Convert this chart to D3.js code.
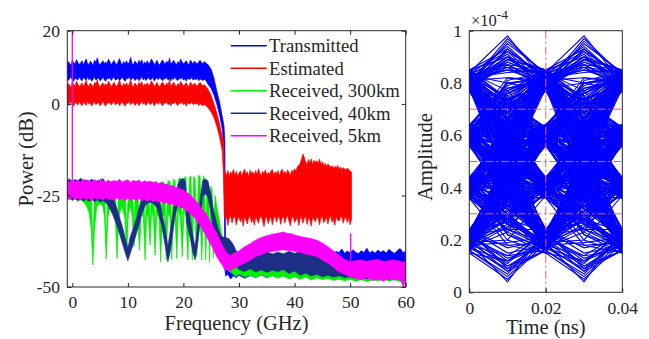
<!DOCTYPE html>
<html><head><meta charset="utf-8">
<script src="https://cdn.jsdelivr.net/npm/d3@7"></script>
<style>
body{margin:0;background:#fff}
svg{display:block}
</style></head><body>
<svg id="c" width="649" height="339"></svg>
<script>
// ---------------- DATA ----------------
const seriesNames = ["Transmitted","Estimated","Received, 300km","Received, 40km","Received, 5km"];
const seriesColors = ["#0000ff","#ff0000","#00ee00","#1c2f87","#ff00ff"];
const freqTicks = [0,10,20,30,40,50,60];
const powerTicks = [-50,-25,0,20];

// In-band noise of Transmitted / Estimated, sampled every 0.25 GHz from -1 GHz to 24 GHz (dB)
const flatStart = -1, flatStep = 0.25;
const txFlatHi = [10.8,11.6,11.1,10.5,11.9,11.3,10.9,12.1,11.4,10.7,11.2,11.8,10.6,11.5,12.3,11.0,10.8,11.7,11.2,10.5,11.9,11.4,12.6,11.1,10.7,11.3,11.8,10.9,11.5,11.0,12.2,11.6,10.6,11.3,11.9,11.1,10.8,11.5,12.4,11.2,10.7,11.6,11.0,11.8,10.9,11.4,12.7,11.1,10.6,11.7,11.3,10.8,11.9,11.2,12.1,10.7,11.5,11.0,11.8,10.9,11.4,12.3,11.6,10.8,11.2,11.9,11.0,10.6,11.5,12.0,11.3,10.9,11.7,11.1,12.5,10.8,11.4,11.9,11.2,10.7,11.6,11.0,12.2,11.5,10.9,11.3,11.8,11.1,10.7,12.0,11.4,11.0,11.7,11.2,10.9,11.5,11.9,11.3,11.0,11.6,11.2];
const txFlatLo = [7.0,6.4,6.9,7.3,6.6,6.2,7.1,6.8,6.5,7.4,6.7,6.3,7.2,6.9,6.4,7.5,6.6,7.0,6.2,6.8,7.3,6.5,6.9,7.1,6.3,6.7,7.4,6.6,6.2,7.0,6.8,7.2,6.4,6.9,7.5,6.5,6.7,7.1,6.3,6.9,7.3,6.6,6.2,7.0,6.8,7.4,6.5,6.9,7.2,6.4,6.7,7.1,6.3,6.8,7.5,6.6,7.0,6.4,6.9,7.2,6.5,6.8,7.3,6.2,6.9,7.1,6.6,7.4,6.7,6.3,7.0,6.8,7.2,6.5,6.9,6.3,7.1,6.7,7.4,6.6,6.4,7.0,6.8,7.3,6.5,6.9,6.2,7.1,6.7,6.8,7.2,6.5,6.9,6.6,7.0,6.3,6.8,6.6,6.4,6.7,6.5];
const estFlatHi = [4.8,5.6,5.1,4.5,5.9,5.3,4.9,6.2,5.4,4.7,5.2,5.8,4.6,5.5,6.4,5.0,4.8,5.7,5.2,4.5,5.9,5.4,6.6,5.1,4.7,5.3,5.8,4.9,5.5,5.0,6.2,5.6,4.6,5.3,5.9,5.1,4.8,5.5,6.5,5.2,4.7,5.6,5.0,5.8,4.9,5.4,6.7,5.1,4.6,5.7,5.3,4.8,5.9,5.2,6.1,4.7,5.5,5.0,5.8,4.9,5.4,6.3,5.6,4.8,5.2,5.9,5.0,4.6,5.5,6.0,5.3,4.9,5.7,5.1,6.5,4.8,5.4,5.9,5.2,4.7,5.6,5.0,6.2,5.5,4.9,5.3,5.8,5.1,4.7,6.0,5.4,5.0,5.7,5.2,4.9,5.5,5.9,5.3,5.0,5.2,4.9];
const estFlatLo = [0.3,-0.4,0.2,0.6,-0.2,-0.6,0.4,0.1,-0.3,0.7,0.0,-0.5,0.5,0.2,-0.4,0.8,-0.1,0.3,-0.6,0.1,0.6,-0.2,0.2,0.4,-0.5,0.0,0.7,-0.1,-0.6,0.3,0.1,0.5,-0.3,0.2,0.8,-0.2,0.0,0.4,-0.5,0.2,0.6,-0.1,-0.6,0.3,0.1,0.7,-0.2,0.2,0.5,-0.4,0.0,0.4,-0.5,0.1,0.8,-0.1,0.3,-0.4,0.2,0.5,-0.2,0.1,0.6,-0.6,0.2,0.4,-0.1,0.7,0.0,-0.5,0.3,0.1,0.5,-0.2,0.2,-0.5,0.4,0.0,0.7,-0.1,-0.4,0.3,0.1,0.6,-0.2,0.2,-0.6,0.4,0.0,0.1,0.5,-0.2,0.2,-0.1,0.3,-0.5,0.1,-0.3,-0.4,-0.2,-0.3];

// Roll-off and out-of-band parts: [frequency GHz, lower dB, upper dB]
const txTail = [[24.5,5.2,10.6],[25,4.2,9.4],[25.5,2.4,7.0],[26,0.0,3.5],[26.5,-3.0,0.5],[27,-7.0,-3.5],[27.3,-12,-6],[27.45,-45,-10],[27.6,-47,-43],[28,-46.5,-43.8],[28.5,-47.8,-44.2],[29,-46.9,-43.6],[29.5,-47.5,-44.0],[30,-46.8,-43.9],[31,-47.6,-44.3],[32,-46.9,-43.7],[33,-47.4,-44.1],[34,-46.7,-43.8],[35,-47.5,-44.0],[36,-46.8,-43.6],[37,-47.2,-44.2],[38,-46.9,-43.5],[39,-47.3,-43.9],[40,-46.6,-43.4],[41,-46.8,-43.2],[42,-46.4,-43.0],[43,-46.0,-42.6],[44,-45.6,-42.2],[45,-45.0,-41.6],[46,-44.5,-41.2],[47,-44.2,-40.8],[47.5,-43.8,-40.3],[48,-43.6,-40.6],[48.5,-43.9,-39.6],[49,-43.5,-40.8],[49.5,-43.8,-40.2],[50,-43.4,-40.7],[50.5,-43.9,-39.8],[51,-43.6,-40.5],[51.5,-43.3,-40.9],[52,-43.8,-40.1],[52.5,-43.5,-40.6],[53,-43.9,-39.4],[53.5,-43.4,-40.7],[54,-43.7,-40.2],[54.5,-43.5,-40.8],[55,-43.9,-39.9],[55.5,-43.3,-40.5],[56,-43.6,-40.1],[56.5,-43.8,-40.7],[57,-43.4,-39.7],[57.5,-43.7,-40.4],[58,-43.5,-40.8],[58.5,-43.9,-40.0],[59,-43.6,-39.5],[59.5,-43.8,-40.6],[60,-43.5,-40.3]];
const estRollOff = [[24.5,-1.2,3.8],[25,-2.2,2.2],[25.5,-3.8,0.0],[26,-6.0,-2.5],[26.5,-9.0,-5.5],[27,-13.0,-9.0],[27.2,-19,-10],[27.35,-30,-17.5]];
// Estimated, out-of-band floor, every 0.25 GHz from 27.5 GHz to 50.25 GHz
const estBandStart = 27.5;
const estBandHi = [-18.8,-19.4,-18.2,-19.7,-18.6,-19.1,-17.9,-19.5,-18.4,-19.8,-18.9,-18.3,-19.6,-18.7,-17.8,-19.2,-18.5,-19.9,-18.1,-19.0,-18.6,-19.4,-18.2,-19.3,-17.7,-18.9,-19.6,-18.4,-19.1,-18.0,-19.5,-18.7,-19.2,-18.3,-17.9,-19.4,-18.6,-19.0,-18.2,-19.7,-18.5,-17.8,-19.1,-18.4,-19.3,-18.0,-18.8,-19.5,-18.1,-18.6,-17.7,-18.3,-17.2,-16.8,-16.2,-15.1,-13.7,-14.6,-15.9,-16.4,-15.2,-16.1,-15.0,-16.6,-15.4,-16.0,-15.5,-16.3,-15.1,-16.5,-15.8,-16.9,-16.2,-17.1,-16.4,-16.8,-17.3,-16.9,-17.6,-17.0,-17.5,-16.8,-17.8,-17.2,-18.0,-17.4,-17.7,-18.1,-17.5,-17.9,-18.3,-18.6];
const estBandLo = [-31.5,-30.8,-33.2,-31.2,-30.6,-32.5,-31.0,-30.7,-33.0,-31.4,-30.9,-32.2,-31.1,-33.4,-30.8,-31.6,-32.8,-31.0,-30.6,-32.4,-31.3,-33.1,-30.9,-31.5,-32.6,-31.0,-30.7,-32.0,-33.5,-31.2,-30.8,-32.7,-31.4,-30.9,-33.0,-31.3,-30.6,-32.3,-31.0,-30.8,-32.9,-31.2,-30.7,-32.5,-31.1,-30.5,-32.1,-33.3,-31.0,-30.8,-32.4,-31.6,-30.9,-33.2,-31.4,-30.7,-32.6,-31.2,-30.6,-32.9,-31.0,-31.8,-33.4,-30.9,-31.5,-32.2,-30.8,-31.3,-33.0,-31.1,-30.7,-32.5,-31.6,-30.9,-32.8,-31.2,-30.6,-32.3,-31.4,-33.1,-30.8,-31.7,-32.0,-31.0,-30.7,-32.6,-31.3,-30.9,-32.4,-31.1,-33.0,-31.5];

const received300 = [[-1,-26.2,-21.0],[-0.5,-25.7,-20.4],[0,-26.4,-21.2],[0.5,-25.9,-20.6],[1,-26.6,-21.1],[1.5,-26.1,-20.3],[2,-26.8,-21.3],[2.5,-27.6,-21.0],[3,-29.5,-21.6],[3.4,-34,-23],[3.7,-44,-39],[4.0,-34,-24],[4.4,-28,-21.5],[5,-27.2,-20.8],[5.5,-28.0,-21.4],[5.8,-31,-22.5],[6.1,-42.4,-38],[6.4,-31,-23],[6.9,-27.5,-21.2],[7.4,-27.8,-21.0],[7.75,-31.5,-22.5],[8.05,-42.2,-37],[8.35,-31,-22.5],[8.9,-27.8,-21.4],[9.45,-31,-22.4],[9.8,-41,-35],[10.1,-30,-22.5],[10.5,-28,-21.6],[10.8,-31,-22.5],[11.1,-39,-33],[11.4,-30,-22.5],[11.75,-31,-22.0],[12.1,-40,-34],[12.4,-30,-22],[12.8,-31,-22.2],[13.1,-42.6,-36],[13.4,-30,-21.8],[13.7,-31,-22],[14.0,-38.5,-33],[14.3,-29,-21.5],[14.6,-31,-22],[14.9,-41.3,-35],[15.2,-30,-21.4],[15.6,-31,-21.8],[15.9,-43.1,-36],[16.2,-30,-21.2],[16.6,-31,-21.6],[16.9,-42.6,-35],[17.2,-30,-21],[17.6,-31,-21.2],[17.9,-42.6,-35],[18.2,-30,-20.6],[18.5,-31,-20.9],[18.8,-42.2,-35],[19.1,-29,-20.5],[19.45,-31,-20.2],[19.8,-41.7,-35],[20.1,-29,-20.3],[20.45,-31,-19.8],[20.8,-42.6,-35],[21.1,-29,-20.0],[21.35,-31,-19.6],[21.6,-42.6,-35],[21.85,-29,-19.8],[22.1,-31,-20.2],[22.4,-41.7,-35],[22.7,-29,-19.5],[23.0,-31,-19.8],[23.3,-42.6,-35],[23.6,-29,-19.6],[23.8,-31,-20.4],[24.0,-42.6,-35],[24.3,-30,-20.8],[24.5,-32,-21.5],[24.7,-43.1,-36],[24.95,-31,-22.5],[25.15,-33,-23.5],[25.4,-42,-36],[25.7,-33,-25],[26.0,-34,-28],[26.3,-36,-30.5],[26.6,-39,-33],[26.9,-41,-36],[27.5,-44,-37.6],[28,-45.5,-39],[28.5,-46,-37.5],[29,-46.5,-40.5],[29.5,-47.2,-42.5],[30,-46.4,-43],[31,-47.3,-42.6],[32,-46.8,-43.2],[33,-47.5,-42.4],[34,-46.6,-43.0],[35,-47.4,-42.6],[36,-46.9,-43.4],[37,-47.6,-42.8],[38,-47.0,-43.3],[39,-47.8,-42.7],[40,-47.2,-43.1],[41,-47.9,-42.8],[42,-47.3,-43.4],[43,-48.1,-43.0],[44,-47.5,-43.6],[45,-48.0,-43.2],[46,-47.6,-43.8],[47,-48.2,-43.5],[48,-47.8,-44.0],[49,-48.3,-43.6],[50,-47.9,-44.1],[51,-48.4,-43.8],[52,-48.0,-44.2],[53,-48.5,-43.9],[54,-48.1,-44.0],[55,-48.3,-43.7],[56,-47.9,-44.1],[57,-48.4,-43.8],[58,-48.0,-44.2],[59,-48.6,-43.9],[60,-48.2,-44.0]];

const received40 = [[-1,-26.0,-21.2],[-0.5,-25.6,-20.6],[0,-26.3,-21.4],[0.5,-25.8,-20.7],[1,-26.4,-21.0],[1.5,-25.9,-20.3],[2,-26.5,-21.3],[2.5,-26.0,-20.8],[3,-26.6,-21.2],[3.5,-26.1,-20.5],[4,-26.7,-21.4],[4.5,-26.2,-20.9],[5,-26.8,-21.1],[5.5,-26.4,-20.4],[6,-27.0,-21.5],[6.5,-27.8,-22.2],[7.2,-30.0,-25.0],[8.0,-33.0,-28.5],[9.0,-38.0,-33.5],[9.6,-41.0,-37.0],[10.0,-42.8,-39.5],[10.4,-41.0,-36.5],[11.3,-36.6,-32.5],[12.0,-33.0,-28.5],[12.5,-30.0,-26.0],[13.2,-27.5,-22.5],[14,-26.8,-21.2],[14.6,-27.2,-21.6],[15.3,-28.5,-23.0],[16.1,-33.5,-29.5],[16.7,-38.5,-34.0],[17.2,-43.1,-39.0],[17.6,-40.5,-35.0],[18.5,-30.5,-26.0],[19.0,-27.5,-22.0],[19.4,-25.5,-20.8],[19.9,-24.4,-20.3],[20.3,-25.5,-21.0],[20.6,-32.5,-26.0],[21.2,-36.5,-31.0],[21.7,-40.5,-36.0],[22.1,-42.6,-39.0],[22.5,-39.0,-34.0],[23.0,-32.5,-26.0],[23.5,-25.3,-20.8],[24.0,-24.5,-20.5],[24.4,-25.5,-21.2],[25.0,-30.0,-25.0],[25.4,-35.3,-29.0],[26.3,-40.0,-34.4],[26.9,-41.7,-36.3],[27.5,-41.7,-36.5],[28.2,-41.5,-36.8],[29,-42.0,-38.5],[29.5,-44.0,-40.2],[30,-45.2,-40.6],[31,-45.8,-40.2],[32,-45.0,-40.8],[33,-45.9,-40.3],[34,-45.3,-40.9],[35,-46.0,-40.4],[36,-45.4,-41.0],[37,-45.8,-40.5],[38,-45.2,-40.9],[39,-46.3,-40.3],[40,-45.6,-40.8],[41,-46.8,-40.4],[42,-46.2,-41.0],[43,-47.0,-40.6],[44,-46.5,-41.2],[45,-47.2,-41.0],[46,-46.8,-41.6],[47,-47.3,-41.8],[48,-46.9,-42.2],[49,-47.4,-42.6],[50,-47.2,-43.0],[51,-47.6,-43.5],[52,-47.3,-43.8],[53,-47.8,-43.6],[54,-47.4,-44.0],[55,-47.7,-43.7],[56,-47.5,-44.1],[57,-47.9,-43.8],[58,-47.4,-44.2],[59,-47.8,-43.9],[60,-47.5,-44.0]];

const received5 = [[-1,-25.6,-20.9],[-0.5,-26.2,-21.4],[0,-25.4,-20.6],[0.5,-26.0,-21.2],[1,-25.7,-20.8],[1.5,-26.3,-21.5],[2,-25.5,-20.5],[2.5,-26.1,-21.1],[3,-25.8,-20.9],[3.5,-26.4,-21.3],[4,-25.6,-20.7],[4.5,-26.0,-21.4],[5,-25.7,-20.6],[5.5,-26.3,-21.0],[6,-25.5,-21.3],[6.5,-26.1,-20.8],[7,-25.9,-21.4],[7.5,-26.4,-20.9],[8,-25.6,-21.2],[8.5,-26.2,-20.6],[9,-25.8,-21.3],[9.5,-26.5,-21.0],[10,-25.7,-20.7],[10.5,-26.3,-21.4],[11,-25.9,-20.9],[11.5,-26.4,-21.2],[12,-25.8,-20.8],[12.5,-26.5,-21.5],[13,-26.0,-21.0],[13.5,-26.6,-21.3],[14,-26.1,-21.1],[14.5,-26.7,-21.6],[15,-26.3,-21.2],[15.5,-26.9,-21.8],[16,-26.6,-21.4],[16.5,-27.2,-22.0],[17,-26.9,-21.9],[17.5,-27.5,-22.4],[18,-27.3,-22.2],[18.5,-27.9,-22.9],[19,-27.7,-22.8],[19.5,-28.4,-23.4],[20,-28.4,-23.5],[20.5,-29.2,-24.1],[21,-29.5,-24.5],[21.5,-30.5,-25.3],[22,-31.0,-26.0],[22.5,-32.2,-27.0],[23,-33.0,-28.0],[23.5,-34.6,-29.0],[24,-35.8,-29.8],[24.5,-37.2,-31.2],[25,-38.5,-32.5],[25.5,-40.2,-34.0],[26,-41.7,-35.3],[26.5,-43.0,-37.0],[27,-44.0,-38.5],[27.5,-45.5,-40.0],[28,-45.2,-40.9],[28.5,-45.6,-41.4],[29,-44.9,-40.8],[29.5,-44.7,-40.5],[30,-44.2,-40.2],[31,-43.5,-39.0],[32,-42.7,-38.2],[33,-41.7,-37.2],[34,-41.2,-36.5],[35,-40.5,-36.0],[36,-40.3,-35.6],[37,-40.0,-35.3],[38,-39.8,-35.0],[38.6,-40.0,-35.3],[39.5,-40.1,-35.5],[40,-40.3,-35.8],[41,-40.5,-36.2],[42,-41.0,-36.5],[43,-41.3,-36.8],[44,-41.7,-37.2],[45,-42.6,-38.0],[46,-43.5,-39.0],[47,-44.6,-40.2],[47.6,-45.5,-40.8],[48.5,-46.2,-41.8],[49,-46.5,-42.5],[50,-47.2,-43.1],[51,-47.6,-42.8],[52,-48.0,-42.6],[53,-47.4,-43.0],[54,-48.2,-42.7],[55,-47.8,-42.5],[56,-48.4,-43.1],[57,-47.6,-42.8],[58,-48.1,-42.6],[59,-47.9,-43.0],[59.6,-50,-43.2],[60,-48.3,-42.9]];
const received5Spikes = [[0.0,-22,20],[50.1,-43,-35.3]];

// Eye diagram: amplitude samples (hundredths of 1e-4), two samples per symbol
const eyeTime = [0, 0.01, 0.02, 0.03, 0.04];
const eyeTimeTicks = [0, 0.02, 0.04];
const ampTicks = [0, 0.2, 0.4, 0.6, 0.8, 1];
const eyeThresholds = [0.3, 0.5, 0.7];
const eyeSampleInstant = [0.02];
const eyeSamples = [82,57,38,52,61,35,18,44,57,74,84,46,22,24,41,43,37,66,79,73,63,38,17,47,81,64,43,26,19,36,58,62,62,76,83,55,39,63,77,53,21,33,42,47,59,57,64,44,16,52,80,61,36,54,60,33,23,27,40,57,85,93,81,68,56,48,44,32,20,42,61,67,78,41,18,28,38,36,42,62,82,75,57,42,22,38,62,72,79,56,15,45,84,58,41,49,63,55,37,24,19,41,58,46,43,59,80,88,83,48,21,35,60,45,17,54,81,62,39,51,62,65,59,71,77,52,24,31,40,45,36,26,16,43,82,66,61,58,57,53,42,65,85,47,20,43,63,69,78,56,38,48,60,37,18,50,84,98,80,63,41,56,58,39,22,29,37,45,64,74,79,44,17,55,83,72,56,47,43,38,39,61,81,49,19,46,61,64,57,50,40,58,82,53,23,9,16,46,80,60,42,52,62,68,85,57,38,27,20,40,59,56,63,54,36,64,78,51,21,34,44,46,58,73,83,86,79,42,18,39,60,48,41,30,15,49,81,59,37,53,64,36,22,44,57,70,84,65,39,56,80,50,19,4,24,41,61,63,56,45,43,60,82,62,40,50,59,43,17,25,38,63,85,90,78,71,62,41,20,37,58,52,42,28,16,53,83,58,36,49,63,39,21,47,79,61,41,55,60,67,81,54,18,32,44,62,77,74,57,40,23,42,61,59,64,72,84,57,39,64,80,60,37,28,19,45,59,35,22,51,82,84,85,63,40,47,62,38,17,12,20,30,43,59,78,69,58,51,38,62,83,48,21,27,42,53,60,42,16,46,81,73,63,49,36,24,24,15,18,50,79,56,41,42,39,52,61,70,84,45,20,43,57,48,42,61,80,90,
80,92,83,86,78,60,41,30,18,8,22,33,44,55,61,79,84,70,58,41,19,25,38,57,79,90,85,66,42,22,17,36,57,64,63,82,81,58,40,37,36,48,59,75,83,47,21,14,16,42,62,61,58,73,80,95,84,65,39,28,23,46,61,55,43,62,77,88,82,55,37,26,20,11,24,44,63,72,79,51,18,29,41,50,60,52,38,20,15,5,19,48,82,69,57,58,62,66,83,91,78,49,22,31,42,38,37,51,64,77,85,60,40,41,43,56,59,39,18,26,40,63,81,82,80,52,21,40,58,43,17,23,43,46,39,67,84,87,79,64,42,34,20,45,61,80,82,75,60,47,36,18,19,10,16,37,57,47,41,63,83,94,81,62,38,49,63,58,56,37,23,49,80,70,59,64,62,44,22,13,18,52,84,77,61,50,39,40,42,66,78,89,85,51,20,36,44,54,58,59,64,78,80,61,37,24,17,40,60,70,81,66,43,51,57,33,21,30,39,53,62,71,79,96,83,57,41,28,16,7,22,39,59,56,58,76,84,61,40,45,38,35,19,20,37,59,82,85,80,67,56,50,44,27,18,45,63,58,42,61,79,52,24,17,20,41,61,69,78,87,85,73,60,40,21,33,41,44,36,62,81,54,19,34,57,51,43,22,15,12,23,51,83,71,62,43,17,38,58,66,80,89,82,63,39,48,61,57,59,81,84,58,38,32,22,46,63,60,56,35,20,28,42,47,40,64,79,93,81,50,18,19,21,44,60,62,64,47,37,55,83,80,77,56,43,42,41,30,16,34,57,73,85,63,42,57,62,60,59,38,23,10,19,46,80,66,58,50,44,56,61,76,82,71,
60,44,19,30,42,58,79,86,84,73,57,36,17,9,21,47,63,70,78,55,38,44,43,62,81,90,80,57,36,33,22,41,58,71,83,64,43,29,18,38,61,63,59,49,40,23,16,6,20,37,57,69,84,92,79,58,42,52,62,45,24,36,39,55,64,80,82,60,41,46,37,28,19,47,78,72,60,59,56,66,85,74,62,35,18,14,23,45,58,49,44,57,80,97,83,61,38,43,21,18,15,43,63,74,79,67,57,51,42,32,20,54,81,85,84,62,40,28,17,35,59,61,61,78,82,47,19,31,43,53,60,72,77,89,85,56,36,38,41,42,38,60,80,58,22,12,18,44,62,58,57,41,23,39,56,77,83,87,80,51,21,40,59,46,37,52,64,65,58,80,81,62,44,37,20,8,16,38,61,52,41,59,79,93,82,71,63,47,24,30,39,41,42,64,84,57,37,36,22,45,60,66,78,80,83];

// ---------------- DRAWING ----------------
const FONT = '"Liberation Serif","Times New Roman",Tinos,serif';
const INK = '#262626';
const svg = d3.select('#c').style('font-family', FONT);
const FT = 17.5, FL = 20.5, FG = 18.7;
function txt(sel){ return sel.style('font-family', FONT).attr('fill', INK); }

// assemble spectrum series from their pieces
const flatPts = (lo,hi)=>lo.map((v,i)=>[flatStart+i*flatStep, v, hi[i]]);
const transmitted = flatPts(txFlatLo, txFlatHi).concat(txTail);
const estimated = flatPts(estFlatLo, estFlatHi).concat(estRollOff,
  estBandLo.map((v,i)=>[estBandStart+i*flatStep, v, estBandHi[i]]));

// ---- Left: spectrum ----
const P = {l:67.3, r:405.7, t:30.7, b:287};
const x = d3.scaleLinear().domain([-0.9,60]).range([P.l,P.r]);
const y = d3.scaleLinear().domain([-50,20]).range([P.b,P.t]);

svg.append('clipPath').attr('id','clipL').append('rect')
  .attr('x',P.l).attr('y',P.t).attr('width',P.r-P.l).attr('height',P.b-P.t);
const gL = svg.append('g').attr('clip-path','url(#clipL)');
const area = d3.area().x(d=>x(d[0])).y0(d=>y(d[1])).y1(d=>y(d[2]));
const allSeries = [transmitted, estimated, received300, received40, received5];
allSeries.forEach((s,i)=>{
  gL.append('path').datum(s).attr('d',area)
    .attr('fill',seriesColors[i]).attr('stroke',seriesColors[i]).attr('stroke-width',0.7);
});
gL.selectAll('line.spk').data(received5Spikes).join('line').attr('class','spk')
  .attr('x1',d=>x(d[0])).attr('x2',d=>x(d[0])).attr('y1',d=>y(d[1])).attr('y2',d=>y(d[2]))
  .attr('stroke',seriesColors[4]).attr('stroke-width',1.3);

function styleAxis(g){
  g.attr('font-family', null);
  g.selectAll('.domain').remove();
  g.selectAll('line').attr('stroke',INK);
  g.selectAll('text').attr('font-size',FT).attr('fill',INK).style('font-family',FONT);
}
const fmt = d=>String(d);
svg.append('g').attr('transform',`translate(0,${P.b})`)
  .call(d3.axisBottom(x).tickValues(freqTicks).tickFormat(fmt).tickSize(-4).tickPadding(9)).call(styleAxis);
svg.append('g').attr('transform',`translate(0,${P.t})`)
  .call(d3.axisTop(x).tickValues(freqTicks).tickFormat('').tickSize(-4)).call(styleAxis);
svg.append('g').attr('transform',`translate(${P.l},0)`)
  .call(d3.axisLeft(y).tickValues(powerTicks).tickFormat(fmt).tickSize(-4).tickPadding(7.3)).call(styleAxis);
svg.append('g').attr('transform',`translate(${P.r},0)`)
  .call(d3.axisRight(y).tickValues(powerTicks).tickFormat('').tickSize(-4)).call(styleAxis);
svg.append('rect').attr('x',P.l).attr('y',P.t).attr('width',P.r-P.l).attr('height',P.b-P.t)
  .attr('fill','none').attr('stroke',INK).attr('stroke-width',1);

txt(svg.append('text')).attr('x',(P.l+P.r)/2).attr('y',P.b+43).attr('text-anchor','middle')
  .attr('font-size',FL).text('Frequency (GHz)');
txt(svg.append('text')).attr('transform',`translate(33,${(P.t+P.b)/2}) rotate(-90)`).attr('text-anchor','middle')
  .attr('font-size',FL).text('Power (dB)');

// legend
const lg = svg.append('g');
seriesNames.forEach((n,i)=>{
  const yy = 45.7 + i*22.5;
  lg.append('line').attr('x1',230.7).attr('x2',266.7).attr('y1',yy).attr('y2',yy)
    .attr('stroke',seriesColors[i]).attr('stroke-width',1.4);
  txt(lg.append('text')).attr('x',269).attr('y',yy+6.6).attr('font-size',FG).text(n);
});

// ---- Right: eye diagram ----
const E = {l:469.3, r:622.3, t:30.7, b:292.3};
const xe = d3.scaleLinear().domain([0,0.04]).range([E.l,E.r]);
const ye = d3.scaleLinear().domain([0,1]).range([E.b,E.t]);
svg.append('clipPath').attr('id','clipR').append('rect')
  .attr('x',E.l).attr('y',E.t).attr('width',E.r-E.l).attr('height',E.b-E.t);
const gR = svg.append('g').attr('clip-path','url(#clipR)');
const traces = [];
for(let k=0; k+4 < eyeSamples.length; k+=2){
  traces.push(eyeSamples.slice(k,k+5).map((v,j)=>[eyeTime[j], v/100]));
}
const eyeLine = d3.line().x(d=>xe(d[0])).y(d=>ye(d[1]));
gR.selectAll('path.tr').data(traces).join('path').attr('class','tr')
  .attr('d',eyeLine).attr('fill','none').attr('stroke','#0000ff').attr('stroke-width',1.1);
gR.selectAll('line.th').data(eyeThresholds).join('line').attr('class','th')
  .attr('x1',E.l).attr('x2',E.r).attr('y1',d=>ye(d)).attr('y2',d=>ye(d))
  .attr('stroke','#f25a5a').attr('stroke-width',1).attr('stroke-dasharray','8,3,2,3');
gR.selectAll('line.si').data(eyeSampleInstant).join('line').attr('class','si')
  .attr('x1',d=>xe(d)).attr('x2',d=>xe(d)).attr('y1',E.t).attr('y2',E.b)
  .attr('stroke','#f25a5a').attr('stroke-width',1).attr('stroke-dasharray','8,3,2,3');

svg.append('g').attr('transform',`translate(0,${E.b})`)
  .call(d3.axisBottom(xe).tickValues(eyeTimeTicks).tickFormat(fmt).tickSize(-4).tickPadding(9)).call(styleAxis);
svg.append('g').attr('transform',`translate(${E.l},0)`)
  .call(d3.axisLeft(ye).tickValues(ampTicks).tickFormat(fmt).tickSize(-4).tickPadding(7.3)).call(styleAxis);
svg.append('rect').attr('x',E.l).attr('y',E.t).attr('width',E.r-E.l).attr('height',E.b-E.t)
  .attr('fill','none').attr('stroke',INK).attr('stroke-width',1);

txt(svg.append('text')).attr('x',(E.l+E.r)/2).attr('y',E.b+42).attr('text-anchor','middle')
  .attr('font-size',FL).text('Time (ns)');
txt(svg.append('text')).attr('transform',`translate(432,157) rotate(-90)`).attr('text-anchor','middle')
  .attr('font-size',FL).text('Amplitude');
const ex = txt(svg.append('text')).attr('x',471).attr('y',26).attr('font-size',16.5);
ex.append('tspan').text('×10');
ex.append('tspan').attr('font-size',13.5).attr('dy',-7).text('-4');
</script>
</body></html>
